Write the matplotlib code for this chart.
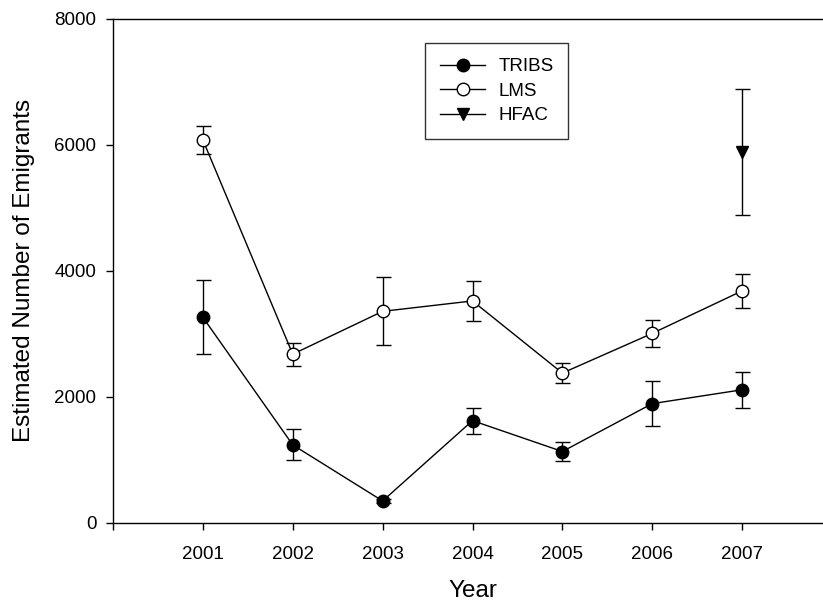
import matplotlib
matplotlib.use("Agg")
import matplotlib.pyplot as plt
from matplotlib.lines import Line2D

years = [2001, 2002, 2003, 2004, 2005, 2006, 2007]
tribs = [3260, 1235, 345, 1620, 1130, 1890, 2110]
tribs_err = [590, 245, 30, 205, 150, 360, 290]
lms = [6075, 2675, 3355, 3520, 2375, 3005, 3680]
lms_err = [225, 180, 540, 315, 155, 215, 265]
hfac_years = [2007]
hfac = [5880]
hfac_err = [1000]

xticks = [2000, 2001, 2002, 2003, 2004, 2005, 2006, 2007, 2008]
xticklabels = ["", "2001", "2002", "2003", "2004", "2005", "2006", "2007", ""]
yticks = [0, 2000, 4000, 6000, 8000]

plt.rcParams['font.family'] = ['Liberation Sans', 'DejaVu Sans']
fs = 13.5
lfs = 17.5

fig = plt.figure(figsize=(8.23, 6.04), dpi=100)
W, H = 823, 604
ax = fig.add_axes([113 / W, 1 - 522.7 / H, (832 - 113) / W, (522.7 - 18.7) / H])

common = dict(color='black', lw=1.0, capsize=5.4, capthick=1.0, elinewidth=1.0)
ax.errorbar(years, tribs, yerr=tribs_err, fmt='-o', ms=9, mfc='black', mec='black',
            zorder=3, **common)
ax.errorbar(years, lms, yerr=lms_err, fmt='-o', ms=9, mfc='white', mec='black', mew=1.0,
            zorder=3, **common)
ax.errorbar(hfac_years, hfac, yerr=hfac_err, fmt='-v', ms=9, mfc='black', mec='black',
            zorder=3, **common)

ax.set_xlim(2000, 2008)
ax.set_ylim(0, 8000)
ax.set_xticks(xticks)
ax.set_xticklabels(xticklabels)
ax.set_yticks(yticks)
ax.tick_params(direction='out', length=5, width=1.0, labelsize=fs, pad=7)
ax.tick_params(axis='x', pad=12)
for s in ax.spines.values():
    s.set_linewidth(1.0)

ax.set_xlabel('Year', fontsize=lfs, labelpad=12)
ax.set_ylabel('Estimated Number of Emigrants', fontsize=lfs, labelpad=14)

handles = [
    Line2D([], [], color='black', lw=1.0, marker='o', ms=9, mfc='black', mec='black'),
    Line2D([], [], color='black', lw=1.0, marker='o', ms=9, mfc='white', mec='black'),
    Line2D([], [], color='black', lw=1.0, marker='v', ms=9, mfc='black', mec='black'),
]
labels = ['TRIBS', 'LMS', 'HFAC']
leg = fig.legend(handles, labels, loc='upper left', bbox_to_anchor=(425 / W, 1 - 43 / H),
                 fontsize=fs, frameon=True, fancybox=False, edgecolor='black',
                 handlelength=2.4, handletextpad=0.7, labelspacing=0.4, borderpad=0.8,
                 borderaxespad=0)
leg.get_frame().set_linewidth(1.0)

fig.savefig('out.png', dpi=100)
